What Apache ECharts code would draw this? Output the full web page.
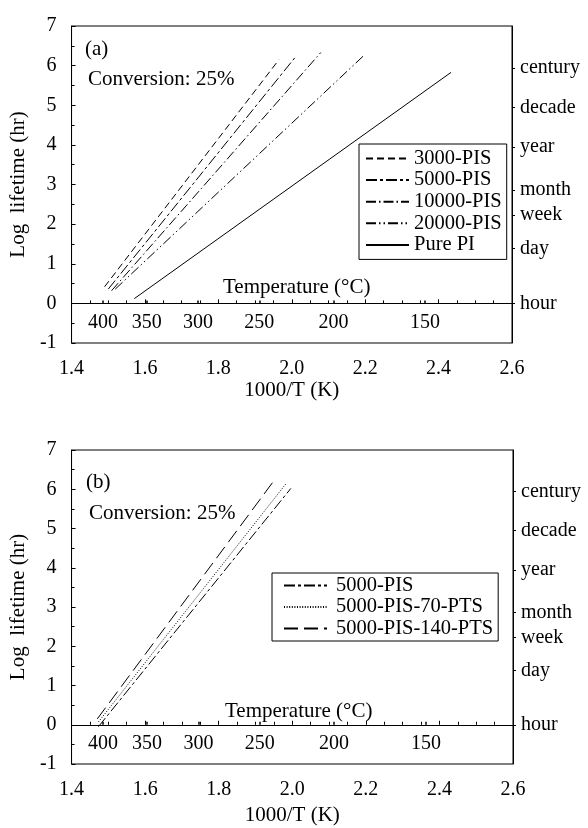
<!DOCTYPE html>
<html>
<head>
<meta charset="utf-8">
<script src="https://cdn.jsdelivr.net/npm/echarts@6/dist/echarts.min.js"></script>
<style>html,body{margin:0;padding:0;background:#fff;}#c{width:588px;height:828px;}</style>
</head>
<body>
<div id="c"></div>
<script>
// ---- data ----
const topNames = ['3000-PIS', '5000-PIS', '10000-PIS', '20000-PIS', 'Pure PI'];
const top3000 = [[1.490, 0.42], [1.965, 6.15]];
const top5000 = [[1.500, 0.36], [2.011, 6.23]];
const top10000 = [[1.509, 0.32], [2.079, 6.33]];
const top20000 = [[1.519, 0.36], [2.198, 6.27]];
const topPurePI = [[1.571, 0.12], [2.434, 5.83]];

const botNames = ['5000-PIS', '5000-PIS-70-PTS', '5000-PIS-140-PTS'];
const bot5000 = [[1.473, -0.05], [1.996, 6.02]];
const bot70 = [[1.473, 0.07], [1.982, 6.13]];
const bot140 = [[1.470, 0.15], [1.955, 6.28]];

const tempLabels = ['400', '350', '300', '250', '200', '150'];
const tempPositions = [1.4856, 1.6048, 1.7448, 1.9115, 2.1135, 2.3632];
const timeLabels = ['hour', 'day', 'week', 'month', 'year', 'decade', 'century'];
const timePositions = [0, 1.380, 2.225, 2.857, 3.943, 4.943, 5.943];

// ---- styles ----
const FONT = 'Liberation Serif';
const dashes = {
  '3000-PIS': [7, 4],
  '5000-PIS': [11, 3, 3, 3],
  '10000-PIS': [10, 3, 1.5, 3],
  '20000-PIS': [10, 3, 1.5, 3, 1.5, 3],
  'Pure PI': 'solid',
  '5000-PIS-70-PTS': [1, 1.6],
  '5000-PIS-140-PTS': [14, 6]
};

function tempFmt(v) {
  const i = tempPositions.findIndex(t => Math.abs(t - v) < 1e-6);
  return i >= 0 ? tempLabels[i] : '';
}
function timeFmt(v) {
  const i = timePositions.findIndex(t => Math.abs(t - v) < 1e-6);
  return i >= 0 ? timeLabels[i] : '';
}

function mainX(gi, nameGap) {
  return {
    type: 'value', gridIndex: gi, position: 'bottom', min: 1.4, max: 2.6, interval: 0.2,
    axisLine: { show: true, lineStyle: { color: '#000', width: 1 } },
    axisTick: { show: true, inside: true, length: 4, lineStyle: { color: '#000' } },
    minorTick: { show: true, splitNumber: 4, length: 3, lineStyle: { color: '#000' } },
    splitLine: { show: false },
    axisLabel: { fontFamily: FONT, fontSize: 20, color: '#000', margin: 16, formatter: v => v.toFixed(1) },
    name: '1000/T (K)', nameLocation: 'middle', nameGap: nameGap,
    nameTextStyle: { fontFamily: FONT, fontSize: 21, color: '#000' }
  };
}
function tempX(gi) {
  return {
    type: 'value', gridIndex: gi, position: 'bottom', min: 1.4, max: 2.6,
    axisLine: { show: false },
    axisTick: { show: true, inside: true, length: 3, customValues: tempPositions, lineStyle: { color: '#000', width: 1.5 } },
    splitLine: { show: false },
    axisLabel: { show: true, inside: true, margin: 10, customValues: tempPositions, formatter: tempFmt,
      fontFamily: FONT, fontSize: 20, color: '#000' }
  };
}
function leftY(gi) {
  return {
    type: 'value', gridIndex: gi, position: 'left', min: -1, max: 7, interval: 1,
    axisLine: { show: true, lineStyle: { color: '#000', width: 1 } },
    axisTick: { show: true, inside: true, length: 4, lineStyle: { color: '#000' } },
    minorTick: { show: true, splitNumber: 2, length: 3, lineStyle: { color: '#000' } },
    splitLine: { show: false },
    axisLabel: { fontFamily: FONT, fontSize: 20, color: '#000', margin: 15 },
    name: 'Log  lifetime (hr)', nameLocation: 'middle', nameGap: 40,
    nameTextStyle: { fontFamily: FONT, fontSize: 21, color: '#000' }
  };
}
function rightY(gi) {
  return {
    type: 'value', gridIndex: gi, position: 'right', min: -1, max: 7,
    axisLine: { show: true, lineStyle: { color: '#000', width: 1 } },
    axisTick: { show: true, inside: false, length: 3, customValues: timePositions, lineStyle: { color: '#000' } },
    splitLine: { show: false },
    axisLabel: { show: true, margin: 8, customValues: timePositions, formatter: timeFmt,
      fontFamily: FONT, fontSize: 20, color: '#000' }
  };
}
function ser(name, data, xi, yi) {
  return {
    type: 'line', name: name, data: data, xAxisIndex: xi, yAxisIndex: yi,
    symbol: 'none', showSymbol: false, silent: true,
    lineStyle: { color: '#000', width: 1, type: dashes[name] },
    itemStyle: { color: '#000' }
  };
}
function txt(text, left, top, size) {
  return { text: text, left: left, top: top, padding: 0,
    textStyle: { fontFamily: FONT, fontSize: size, fontWeight: 'normal', color: '#000' } };
}

const chart = echarts.init(document.getElementById('c'), null, { renderer: 'canvas' });
chart.setOption({
  animation: false,
  backgroundColor: '#fff',
  grid: [
    { left: 70, top: 26, width: 442, height: 317, show: true, borderColor: '#000', borderWidth: 1, backgroundColor: 'transparent' },
    { left: 70, top: 450, width: 443, height: 314, show: true, borderColor: '#000', borderWidth: 1, backgroundColor: 'transparent' }
  ],
  xAxis: [mainX(0, 36), tempX(0), mainX(1, 41), tempX(1)],
  yAxis: [leftY(0), rightY(0), leftY(1), rightY(1)],
  title: [
    txt('(a)', 85, 39, 21),
    txt('Conversion: 25%', 88, 69, 21),
    txt('Temperature (°C)', 223, 277, 21),
    txt('(b)', 86, 472, 21),
    txt('Conversion: 25%', 89, 503, 21),
    txt('Temperature (°C)', 225, 701, 21)
  ],
  legend: [
    { data: topNames, orient: 'vertical', left: 359, top: 144, padding: [4, 5, 4, 6],
      itemWidth: 43, itemHeight: 12, itemGap: 0.6, selectedMode: false,
      itemStyle: { opacity: 0 },
      borderColor: '#000', borderWidth: 1, backgroundColor: '#fff',
      textStyle: { fontFamily: FONT, fontSize: 20.5, color: '#000', lineHeight: 21 } },
    { data: botNames, orient: 'vertical', left: 272, top: 573, padding: [2, 5, 2, 11],
      itemWidth: 43, itemHeight: 12, itemGap: 0.5, selectedMode: false,
      itemStyle: { opacity: 0 },
      borderColor: '#000', borderWidth: 1, backgroundColor: '#fff',
      textStyle: { fontFamily: FONT, fontSize: 20.5, color: '#000', lineHeight: 21, padding: [0, 0, 0, 4] } }
  ],
  series: [
    ser('3000-PIS', top3000, 0, 0),
    ser('5000-PIS', top5000, 0, 0),
    ser('10000-PIS', top10000, 0, 0),
    ser('20000-PIS', top20000, 0, 0),
    ser('Pure PI', topPurePI, 0, 0),
    ser('5000-PIS', bot5000, 2, 2),
    ser('5000-PIS-70-PTS', bot70, 2, 2),
    ser('5000-PIS-140-PTS', bot140, 2, 2)
  ]
});
</script>
</body>
</html>
